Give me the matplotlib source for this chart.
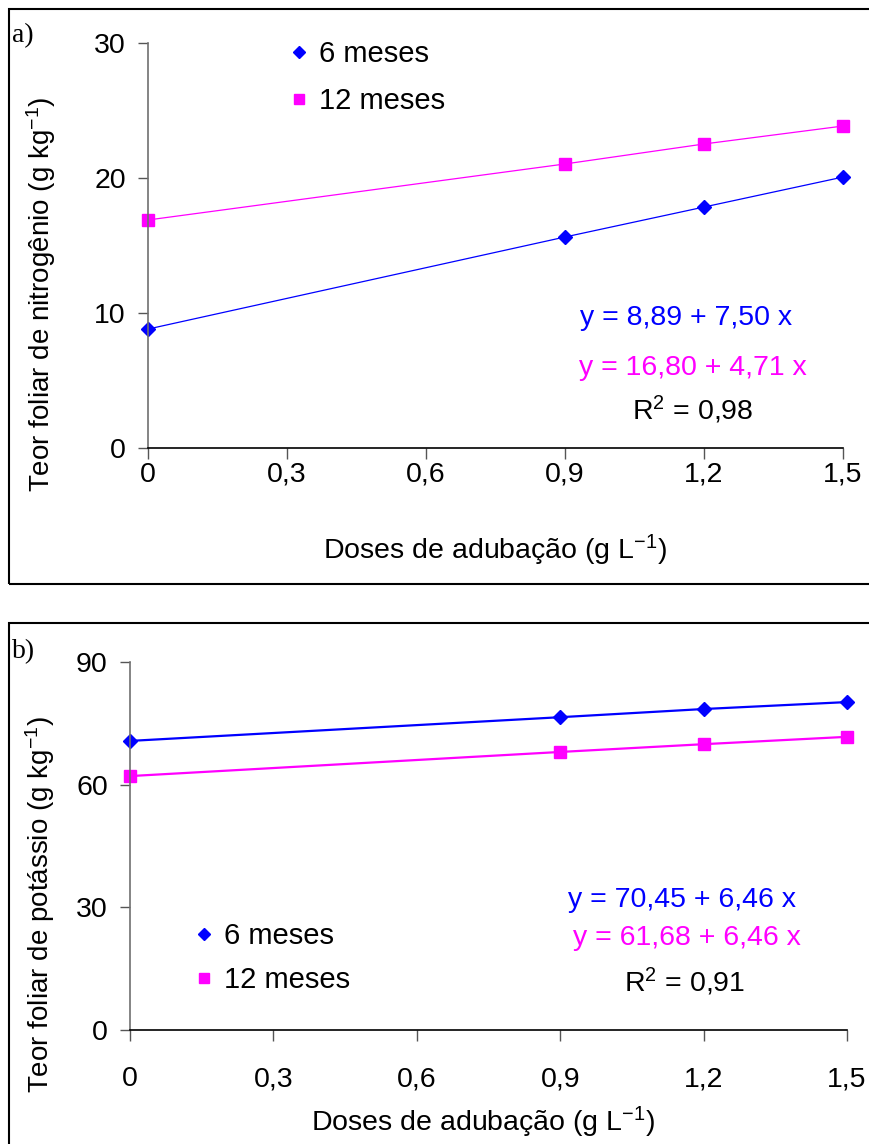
import numpy as np
import matplotlib
matplotlib.use("Agg")
from matplotlib import pyplot as plt
from matplotlib.patches import Rectangle

plt.rcParams['font.family'] = ['Liberation Sans', 'DejaVu Sans']
plt.rcParams['mathtext.fontset'] = 'custom'
plt.rcParams['mathtext.rm'] = 'Liberation Sans'

# data
doses = np.array([0, 0.9, 1.2, 1.5])
x_ticks = [0, 0.3, 0.6, 0.9, 1.2, 1.5]
x_ticklabels = ['0', '0,3', '0,6', '0,9', '1,2', '1,5']

nitro_6m = [8.81, 15.63, 17.85, 20.07]
nitro_12m = [16.89, 21.04, 22.52, 23.85]
nitro_yticks = [0, 10, 20, 30]

potas_6m = [70.7, 76.5, 78.5, 80.2]
potas_12m = [62.1, 68.0, 69.9, 71.7]
potas_yticks = [0, 30, 60, 90]

series_labels = ['6 meses', '12 meses']
BLUE = '#0000ff'
MAGENTA = '#ff00ff'

W, H = 869, 1144


def fx(px):
    return px / W


def fy(py):
    return 1 - py / H


fig = plt.figure(figsize=(W / 100, H / 100), dpi=100)

# panel frames
fig.patches.append(Rectangle((fx(9), fy(584)), fx(900), 575 / H, transform=fig.transFigure,
                             fill=False, lw=1.5, ec='black'))
fig.patches.append(Rectangle((fx(9), fy(1200)), fx(900), 577 / H, transform=fig.transFigure,
                             fill=False, lw=1.5, ec='black'))


def style_axes(ax, yticks, xpad):
    for s in ['top', 'right']:
        ax.spines[s].set_visible(False)
    ax.spines['left'].set_color('#707070')
    ax.spines['left'].set_linewidth(1.2)
    ax.spines['bottom'].set_color('black')
    ax.spines['bottom'].set_linewidth(1.2)
    ax.set_xlim(0, 1.5)
    ax.set_ylim(yticks[0], yticks[-1])
    ax.set_xticks(x_ticks)
    ax.set_xticklabels(x_ticklabels)
    ax.set_yticks(yticks)
    ax.tick_params(axis='y', length=7, width=1, color='#555555', pad=9, labelsize=20.5)
    ax.tick_params(axis='x', length=8, width=1, color='#555555', pad=xpad, labelsize=20.5)
    ax.patch.set_visible(False)


# ---- panel a
ax1 = fig.add_axes([fx(148), fy(448), 695 / W, 405 / H])
style_axes(ax1, nitro_yticks, 2)
ax1.plot(doses, nitro_6m, color=BLUE, lw=0.9, clip_on=False)
ax1.plot(doses, nitro_12m, color=MAGENTA, lw=0.9, clip_on=False)
ax1.plot(doses, nitro_6m, ls='none', marker='D', ms=7.2, color=BLUE, label=series_labels[0], clip_on=False)
ax1.plot(doses, nitro_12m, ls='none', marker='s', ms=8.8, color=MAGENTA, label=series_labels[1], clip_on=False)
ax1.legend(loc='upper left', bbox_to_anchor=(fx(287), fy(40)), bbox_transform=fig.transFigure,
           frameon=False, fontsize=21, handlelength=0.8, handletextpad=0.3, labelspacing=0.66,
           borderpad=0, borderaxespad=0, markerscale=0.85)

fig.text(fx(12), fy(42), 'a)', family='Liberation Serif', fontsize=20, va='baseline', ha='left')
fig.text(fx(41), fy(294), 'Teor foliar de nitrogênio (g kg$\\mathregular{^{-1}}$)',
         rotation=90, ha='center', va='center', fontsize=20)
fig.text(fx(495), fy(550), 'Doses de adubação (g L$\\mathregular{^{-1}}$)',
         ha='center', va='center', fontsize=20.5)
fig.text(fx(686), fy(325), 'y = 8,89 + 7,50 x', color=BLUE, ha='center', va='baseline', fontsize=20.5)
fig.text(fx(693), fy(375), 'y = 16,80 + 4,71 x', color=MAGENTA, ha='center', va='baseline', fontsize=20.5)
fig.text(fx(693), fy(420), 'R$\\mathregular{^2}$ = 0,98', color='black', ha='center', va='baseline', fontsize=20.5)

# ---- panel b
ax2 = fig.add_axes([fx(130), fy(1030), 717 / W, 368 / H])
style_axes(ax2, potas_yticks, 18)
ax2.plot(doses, potas_6m, color=BLUE, lw=1.6, clip_on=False)
ax2.plot(doses, potas_12m, color=MAGENTA, lw=1.6, clip_on=False)
ax2.plot(doses, potas_6m, ls='none', marker='D', ms=7.2, color=BLUE, label=series_labels[0], clip_on=False)
ax2.plot(doses, potas_12m, ls='none', marker='s', ms=8.8, color=MAGENTA, label=series_labels[1], clip_on=False)
ax2.legend(loc='upper left', bbox_to_anchor=(fx(192), fy(922)), bbox_transform=fig.transFigure,
           frameon=False, fontsize=21, handlelength=0.8, handletextpad=0.3, labelspacing=0.55,
           borderpad=0, borderaxespad=0, markerscale=0.85)

fig.text(fx(12), fy(658), 'b)', family='Liberation Serif', fontsize=20, va='baseline', ha='left')
fig.text(fx(40), fy(905), 'Teor foliar de potássio (g kg$\\mathregular{^{-1}}$)',
         rotation=90, ha='center', va='center', fontsize=20)
fig.text(fx(483), fy(1122), 'Doses de adubação (g L$\\mathregular{^{-1}}$)',
         ha='center', va='center', fontsize=20.5)
fig.text(fx(682), fy(907), 'y = 70,45 + 6,46 x', color=BLUE, ha='center', va='baseline', fontsize=20.5)
fig.text(fx(687), fy(945), 'y = 61,68 + 6,46 x', color=MAGENTA, ha='center', va='baseline', fontsize=20.5)
fig.text(fx(685), fy(992), 'R$\\mathregular{^2}$ = 0,91', color='black', ha='center', va='baseline', fontsize=20.5)

plt.savefig("out.png", dpi=100)
